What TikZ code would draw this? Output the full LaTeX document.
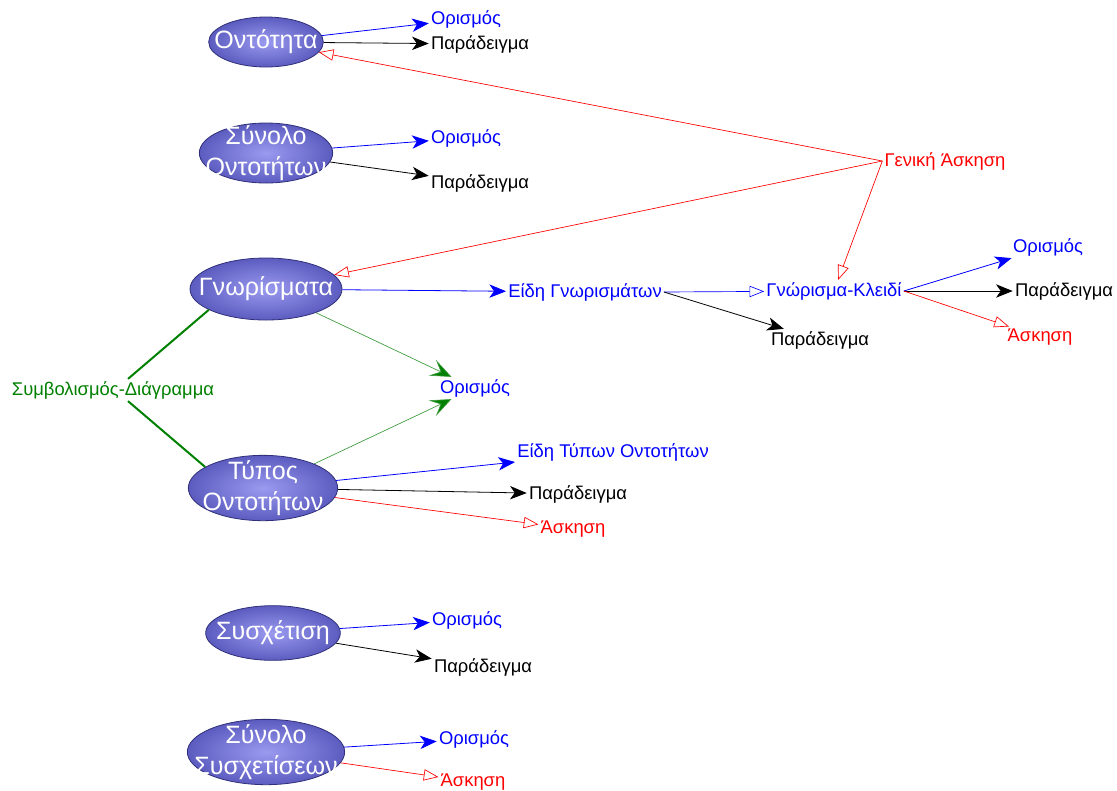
\documentclass[tikz,border=0pt]{standalone}
\usepackage{fontspec}
\setmainfont{Liberation Sans}
\usetikzlibrary{arrows.meta,shapes.geometric,calc}
\definecolor{ellfill}{HTML}{9A9AF0}
\definecolor{ellring}{HTML}{5C5CC0}
\definecolor{ellline}{HTML}{30307A}
\definecolor{dgreen}{HTML}{008000}
\definecolor{lgreen}{HTML}{3C9A3C}
\begin{document}
\begin{tikzpicture}[x=0.75pt,y=-0.75pt,
    concept/.style={ellipse, draw=ellline, line width=0.6pt, shading=radial, inner color=ellfill, outer color=ellring,
      inner sep=-12pt, align=center, text=white, font=\fontsize{18.8pt}{23pt}\selectfont},
    lbl/.style={inner sep=1.5pt, font=\fontsize{13.8pt}{16pt}\selectfont},
    bluelbl/.style={lbl, text=blue},
    blacklbl/.style={lbl, text=black},
    redlbl/.style={lbl, text=red},
    greenlbl/.style={lbl, text=dgreen},
    bluearr/.style={draw=blue, line width=0.6pt, -{Stealth[length=12.5pt,width=10pt,inset=3.5pt]}},
    blackarr/.style={draw=black, line width=0.6pt, -{Stealth[length=12.5pt,width=10pt,inset=3.5pt]}},
    greenarr/.style={draw=lgreen, line width=0.5pt, -{Stealth[length=16pt,width=13pt,inset=7pt,fill=dgreen]}},
    redarr/.style={draw=red, line width=0.5pt, -{Triangle[open,length=11pt,width=8.5pt]}},
    blueopen/.style={draw=blue, line width=0.5pt, -{Triangle[open,length=11pt,width=8.5pt]}},
    symline/.style={draw=dgreen, line width=1.5pt}]
  \useasboundingbox (0,0) rectangle (1117,790);

  % Concepts (sizes in pt: pixels times 0.75)
  \node[concept, minimum width=86pt, minimum height=37.5pt] at (266,42) (ont) {Οντότητα};
  \node[concept, minimum width=100pt, minimum height=45pt] at (266,153) (sont) {Σύνολο\\Οντοτήτων};
  \node[concept, minimum width=114pt, minimum height=46.5pt] at (266,289) (gnor) {Γνωρίσματα};
  \node[concept, minimum width=112pt, minimum height=49pt] at (263,488) (typ) {Τύπος\\Οντοτήτων};
  \node[concept, minimum width=101pt, minimum height=41pt] at (273,633) (sys) {Συσχέτιση};
  \node[concept, minimum width=113pt, minimum height=49pt] at (266,752) (ssys) {Σύνολο\\Συσχετίσεων};

  % Labels
  \node[bluelbl] at (466,19) (ontdef) {Ορισμός};
  \node[blacklbl] at (480,44) (ontex) {Παράδειγμα};
  \node[bluelbl] at (466,138) (sontdef) {Ορισμός};
  \node[blacklbl] at (480,183) (sontex) {Παράδειγμα};
  \node[redlbl] at (945,161) (gen) {Γενική Άσκηση};
  \node[bluelbl] at (585,292) (eid) {Είδη Γνωρισμάτων};
  \node[bluelbl] at (834,291) (key) {Γνώρισμα-Κλειδί};
  \node[blacklbl] at (820,340) (eidex) {Παράδειγμα};
  \node[bluelbl] at (1048,247) (keydef) {Ορισμός};
  \node[blacklbl] at (1064,291) (keyex) {Παράδειγμα};
  \node[redlbl] at (1040,337) (keyask) {Άσκηση};
  \node[bluelbl] at (475,388) (def) {Ορισμός};
  \node[greenlbl] at (113,390) (symb) {Συμβολισμός-Διάγραμμα};
  \node[bluelbl] at (613,452) (typeid) {Είδη Τύπων Οντοτήτων};
  \node[blacklbl] at (578,494) (typex) {Παράδειγμα};
  \node[redlbl] at (573,529) (typask) {Άσκηση};
  \node[bluelbl] at (467,620) (sysdef) {Ορισμός};
  \node[blacklbl] at (483,667) (sysex) {Παράδειγμα};
  \node[bluelbl] at (474,739) (ssysdef) {Ορισμός};
  \node[redlbl] at (473,782) (ssysask) {Άσκηση};

  % Connectors
  \draw[bluearr] (ont) -- (ontdef);
  \draw[blackarr] (ont) -- (ontex);
  \draw[bluearr] (sont) -- (sontdef);
  \draw[blackarr] (sont) -- (sontex);
  \draw[redarr] (gen.west) -- (ont);
  \draw[redarr] (gen.west) -- (gnor);
  \draw[redarr] (gen.west) -- (key);
  \draw[bluearr] (gnor) -- (eid);
  \draw[blueopen] (eid.east) -- (key);
  \draw[blackarr] (eid.east) -- (eidex);
  \draw[bluearr] (key.east) -- (keydef);
  \draw[blackarr] (key.east) -- (keyex);
  \draw[redarr] (key.east) -- (keyask);
  \draw[greenarr] (gnor) -- (def);
  \draw[greenarr] (typ) -- (def);
  \draw[symline] (gnor.200) -- ($(symb.north)+(15,0)$);
  \draw[symline] (typ.160) -- ($(symb.south)+(15,0)$);
  \draw[bluearr] (typ) -- (typeid);
  \draw[blackarr] (typ) -- (typex);
  \draw[redarr] (typ) -- (typask);
  \draw[bluearr] (sys) -- (sysdef);
  \draw[blackarr] (sys) -- (sysex);
  \draw[bluearr] (ssys) -- (ssysdef);
  \draw[redarr] (ssys) -- (ssysask);
\end{tikzpicture}
\end{document}
